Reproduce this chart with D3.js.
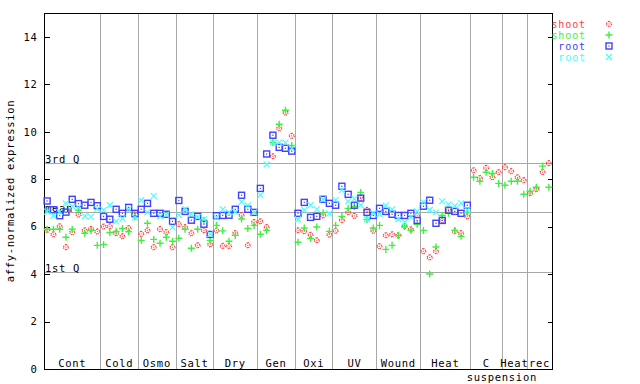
<!DOCTYPE html>
<html>
<head>
<meta charset="utf-8">
<script src="https://cdn.jsdelivr.net/npm/d3@7"></script>
<style>
  body { margin: 0; background: #fff; }
  text { font-family: "DejaVu Sans Mono", monospace; font-size: 10.5px; letter-spacing: 0.7px; }
  .legend text { font-size: 10px; letter-spacing: 0.9px; }
</style>
</head>
<body>
<div id="chart"></div>
<script>
"use strict";

// groups of samples along the x axis
const groups = ["Cont", "Cold", "Osmo", "Salt", "Dry", "Gen", "Oxi", "UV", "Wound", "Heat", "C suspension", "Heat", "rec"];
const groupSizes = [9, 6, 6, 6, 7, 6, 6, 7, 7, 8, 5, 4, 4];

const yTicks = [0, 2, 4, 6, 8, 10, 12, 14];

// reference lines
const refLines = [
    {name: "3rd Q", v: 8.66},
    {name: "mean", v: 6.6},
    {name: "1st Q", v: 4.07}
];

// series values, one per sample (81), null = no value
const shootRed = [
    5.86, 5.67, 6.01, 5.13, 5.76, 6.5, 5.84, 5.9, 5.79,
    6.0, 6.01, 5.72, 5.59, 5.93, 6.56,
    5.69, 5.84, 5.13, 5.89, 5.76, 5.13,
    6.1, 5.97, 5.72, 5.21, 5.84, 5.25,
    5.83, 5.18, 5.18, 5.72, 6.48, 5.21, 6.19,
    6.22, 5.98, 8.96, 10.14, 10.8, 9.82,
    5.84, 5.8, 5.65, 5.42, 6.47, 5.66,
    5.82, 6.27, 6.6, 6.45, 7.2, 6.7, 5.82,
    5.17, 5.63, 5.67, 5.63, 6.01, 5.88, 6.47,
    4.96, 4.7, 4.96, 6.26, 6.69, 5.8, 5.72, 6.43,
    8.37, 8.04, 8.47, 8.08, 8.29,
    8.5, 8.33, 8.07, 7.95,
    7.4, 7.57, 8.29, 8.67
];

const shootGreen = [
    5.89, 5.89, 5.89, 5.55, 5.89, 6.69, 5.72, 5.84, 5.21,
    5.25, 5.75, 5.8, 5.92, 5.78, 6.4,
    5.42, 6.14, 5.46, 5.3, 5.55, 5.38,
    5.51, 5.89, 5.09, 5.89, 6.27, 5.42,
    6.05, 5.82, 5.38, 5.63, 6.32, 5.92, 6.05,
    5.68, 5.84, 9.54, 10.31, 10.9, 9.42,
    5.34, 5.94, 5.5, 5.98, 6.58, 5.8,
    6.05, 6.43, 6.77, 6.85, 7.44, 6.3, 5.94,
    6.05, 5.04, 5.21, 5.63, 6.0, 5.84, 6.1,
    5.84, 4.0, 5.14, 6.47, 6.56, 5.84, 5.59, 6.6,
    8.08, 7.91, 8.29, 8.24, 7.82,
    7.74, 7.91, 7.91, 7.36,
    7.49, 7.66, 8.55, 7.66
];

const rootBlue = [
    7.08, 6.71, 6.46, 6.61, 7.15, 6.97, 6.9, 7.02, 6.88,
    6.43, 6.31, 6.73, 6.56, 6.81, 6.56,
    6.73, 6.98, 6.56, 6.56, 6.52, 6.22,
    7.1, 6.64, 6.27, 6.43, 6.1, 5.67,
    6.46, 6.47, 6.48, 6.73, 7.32, 6.73, 6.6,
    7.61, 9.06, 9.85, 9.34, 9.3, 9.18,
    6.56, 7.02, 6.39, 6.43, 7.15, 6.98,
    6.9, 7.7, 7.36, 6.9, 7.2, 6.6, 6.47,
    6.77, 6.64, 6.52, 6.47, 6.47, 6.56, 6.26,
    6.86, 7.11, 6.14, 6.26, 6.69, 6.64, 6.56, 6.9,
    null, null, null, null, null,
    null, null, null, null,
    null, null, null, null
];

const rootCyan = [
    6.63, 6.46, 6.62, 6.98, 6.85, 6.8, 6.44, 6.42, 6.75,
    6.69, 6.9, 6.22, 6.35, 6.73, 6.39,
    7.11, 6.6, 7.28, 6.43, 6.5, 5.97,
    6.48, 6.73, 6.52, 6.4, 6.3, 5.68,
    6.39, 6.73, 6.6, 6.62, 7.04, 6.89, 6.6,
    7.33, 8.62, 9.54, 9.54, 9.54, 9.3,
    6.31, 6.7, 6.9, 6.73, 7.15, 6.56,
    7.12, 7.54, 7.06, 7.17, 6.9, 6.31, 6.56,
    6.52, 6.88, 6.73, 6.31, 6.19, 6.39, 6.64,
    7.03, 6.7, 6.6, 7.06, 6.94, 6.87, 6.98, 6.7,
    null, null, null, null, null,
    null, null, null, null,
    null, null, null, null
];

const seriesNames = ["shoot", "shoot", "root", "root"];
const seriesColors = ["#ff4040", "#40f040", "#4040ff", "#40ffff"];
const seriesShapes = ["diamond", "plus", "square", "cross"];


const width = 640;
const height = 384;
const margin = ({top: 13, right: 88, bottom: 15, left: 44});

const nSamples = d3.sum(groupSizes);

const x = d3.scaleLinear()
    .domain([0, nSamples])
    .range([margin.left, width - margin.right]);

const y = d3.scaleLinear()
    .domain([0, 15])
    .range([height - margin.bottom, margin.top]);

const svg = d3.select("#chart").append("svg")
    .attr("width", width)
    .attr("height", height);

const x0 = margin.left, x1 = width - margin.right;
const y0 = margin.top, y1 = height - margin.bottom;

// group separators
let starts = [0];
groupSizes.forEach((c, i) => starts.push(starts[i] + c));

svg.append("g")
    .attr("stroke", "#a8a8a8")
    .attr("shape-rendering", "crispEdges")
  .selectAll("line")
  .data(starts.slice(1, -1))
  .join("line")
    .attr("x1", d => Math.round(x(d)) + 0.5)
    .attr("x2", d => Math.round(x(d)) + 0.5)
    .attr("y1", y0)
    .attr("y2", y1);

// reference lines + labels
svg.append("g")
    .attr("stroke", "#a8a8a8")
    .attr("shape-rendering", "crispEdges")
  .selectAll("line")
  .data(refLines)
  .join("line")
    .attr("x1", x0)
    .attr("x2", x1)
    .attr("y1", d => Math.round(y(d.v)) + 0.5)
    .attr("y2", d => Math.round(y(d.v)) + 0.5);

svg.append("g")
  .selectAll("text")
  .data(refLines)
  .join("text")
    .attr("x", x0 + 1)
    .attr("y", d => Math.round(y(d.v)))
    .attr("fill", "#000")
    .text(d => d.name);

// frame
svg.append("rect")
    .attr("x", x0 + 0.5)
    .attr("y", y0 + 0.5)
    .attr("width", x1 - x0)
    .attr("height", y1 - y0)
    .attr("fill", "none")
    .attr("stroke", "#000")
    .attr("shape-rendering", "crispEdges");

// axes
const yAxis = g => g
    .attr("transform", `translate(${x0 + 0.5},0)`)
    .call(d3.axisLeft(y).tickValues(yTicks).tickSize(-5).tickPadding(7))
    .call(g => g.select(".domain").remove())
    .call(g => g.selectAll("text").attr("font-size", null).attr("font-family", null).attr("fill", "#000"));

const yAxisRight = g => g
    .attr("transform", `translate(${x1 + 0.5},0)`)
    .call(d3.axisRight(y).tickValues(yTicks).tickSize(-5).tickFormat(""))
    .call(g => g.select(".domain").remove());

svg.append("g").attr("shape-rendering", "crispEdges").call(yAxis);
svg.append("g").attr("shape-rendering", "crispEdges").call(yAxisRight);

svg.append("text")
    .attr("transform", `translate(14,${(y0 + y1) / 2}) rotate(-90)`)
    .attr("text-anchor", "middle")
    .attr("fill", "#000")
    .text("affy-normalized expression");

// group labels
svg.append("g")
  .selectAll("text")
  .data(groups)
  .join("text")
    .attr("x", (d, i) => x((starts[i] + starts[i + 1]) / 2))
    .attr("y", y1 - 2)
    .attr("text-anchor", "middle")
    .attr("fill", "#000")
    .text(d => d.split(" ")[0]);

svg.append("text")
    .attr("x", x(starts[11]))
    .attr("y", y1 + 12)
    .attr("text-anchor", "middle")
    .attr("fill", "#000")
    .text("suspension");

// markers
function marker(g, shape, color) {
    if (shape === "diamond") {
        g.append("path")
            .attr("d", "M0,-3L3,0L0,3L-3,0Z")
            .attr("fill", "none")
            .attr("stroke", color)
            .attr("stroke-width", 1.3)
            .attr("stroke-dasharray", "1.2,1");
        g.append("rect").attr("x", -0.5).attr("y", -0.5).attr("width", 1).attr("height", 1).attr("fill", color);
    } else if (shape === "plus") {
        g.append("path")
            .attr("d", "M-3.5,0H3.5M0,-3.5V3.5")
            .attr("stroke", color)
            .attr("stroke-width", 1.4);
    } else if (shape === "square") {
        g.append("rect")
            .attr("x", -3).attr("y", -3).attr("width", 6).attr("height", 6)
            .attr("fill", "none")
            .attr("stroke", color)
            .attr("stroke-width", 1.4);
        g.append("rect").attr("x", -0.6).attr("y", -0.6).attr("width", 1.2).attr("height", 1.2).attr("fill", color);
    } else {
        g.append("path")
            .attr("d", "M-3,-3L3,3M-3,3L3,-3")
            .attr("stroke", color)
            .attr("stroke-width", 1.1);
    }
}

const allSeries = [shootRed, shootGreen, rootBlue, rootCyan];

allSeries.forEach((vals, k) => {
    svg.append("g")
      .selectAll("g")
      .data(vals.map((v, i) => ({i: i, v: v})).filter(d => d.v !== null))
      .join("g")
        .attr("transform", d => `translate(${x(d.i + 0.5)},${y(d.v)})`)
        .each(function () { marker(d3.select(this), seriesShapes[k], seriesColors[k]); });
});

// legend
const legend = svg.append("g")
    .attr("class", "legend")
  .selectAll("g")
  .data(seriesNames)
  .join("g")
    .attr("transform", (d, i) => `translate(0,${24 + i * 11})`);

legend.append("text")
    .attr("x", 586)
    .attr("y", 3.5)
    .attr("text-anchor", "end")
    .attr("fill", (d, i) => seriesColors[i])
    .text(d => d);

legend.each(function (d, i) {
    marker(d3.select(this).append("g").attr("transform", "translate(609,0)"), seriesShapes[i], seriesColors[i]);
});

</script>
</body>
</html>
